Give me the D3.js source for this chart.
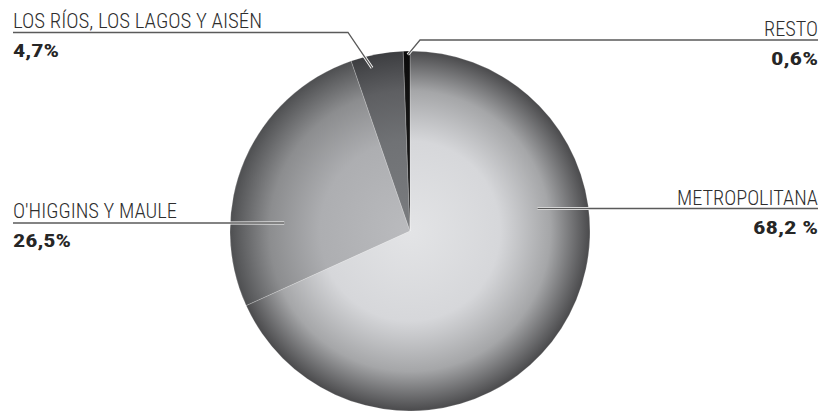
<!DOCTYPE html>
<html>
<head>
<meta charset="utf-8">
<script src="https://cdn.jsdelivr.net/npm/d3@7"></script>
<style>
  body { margin: 0; background: #fff; }
  text { font-family: "Roboto Condensed", "Liberation Sans Narrow", Roboto, "Liberation Sans", sans-serif; }
</style>
</head>
<body>
<div id="canvas"></div>
<script>
"use strict"

/* chart data */
let regions = ["METROPOLITANA", "O'HIGGINS Y MAULE", "LOS RÍOS, LOS LAGOS Y AISÉN", "RESTO"];
let shares = [68.2, 26.5, 4.7, 0.6];
let shareLabels = ["68,2 %", "26,5%", "4,7%", "0,6%"];

/* slice shading: centre colour, mid colour, rim colour */
let shades = [
    ["#e3e4e6", "#d6d7da", "#4a4a4c"],
    ["#babbbe", "#adaeb1", "#4e4f51"],
    ["#7a7c7f", "#707275", "#3c3d40"],
    ["#151515", "#151515", "#0a0a0a"]
];

/* label layout: side, x of text, baseline y of name, leader angle (deg) and radius factor */
let layout = [
    { side: "right", x: 818, y: 205, lineY: 208.5, ang: 79.8, rf: 0.72, nameW: 141, valW: 65 },
    { side: "left",  x: 13,  y: 218, lineY: 223,   ang: 273.6, rf: 0.70, nameW: 164, valW: 58 },
    { side: "left",  x: 13,  y: 28,  lineY: 32.5,  ang: 346.9, rf: 0.93, nameW: 249, valW: 46, bendX: 348 },
    { side: "right", x: 818, y: 36,  lineY: 40,    ang: 359.3, rf: 0.98, nameW: 54,  valW: 47, bendX: 420 }
];

let width = 832, height = 411;
let cx = 410, cy = 231, radius = 180;

let drawing = d3.select("#canvas")
    .append("svg")
    .attr("width", width)
    .attr("height", height);

let defs = drawing.append("defs");

let pie = d3.pie().sort(null).value(d => d);
let arcs = pie(shares);
let arc = d3.arc().innerRadius(0).outerRadius(radius);

shades.forEach(function (s, i) {
    let g = defs.append("radialGradient")
        .attr("id", "shade" + i)
        .attr("gradientUnits", "userSpaceOnUse")
        .attr("cx", 0).attr("cy", 0).attr("r", radius);
    g.append("stop").attr("offset", "0%").attr("stop-color", s[0]);
    g.append("stop").attr("offset", "50%").attr("stop-color", s[1]);
    g.append("stop").attr("offset", "78%").attr("stop-color", d3.interpolateRgb(s[1], s[2])(0.35));
    g.append("stop").attr("offset", "100%").attr("stop-color", s[2]);
});

let pieGroup = drawing.append("g")
    .attr("transform", "translate(" + cx + "," + cy + ")");

/* Slices */
pieGroup.selectAll("path.slice")
    .data(arcs)
    .enter()
    .append("path")
    .attr("class", "slice")
    .attr("d", arc)
    .attr("fill", (d, i) => "url(#shade" + i + ")")
    .attr("stroke", "rgba(255,255,255,0.35)")
    .attr("stroke-width", 0.6);

/* Leader lines */
let leaders = drawing.append("g");

layout.forEach(function (L, i) {
    let p = d3.pointRadial(L.ang * Math.PI / 180, radius * L.rf);
    let ax = cx + p[0], ay = cy + p[1];
    let pts;
    if (L.bendX !== undefined) {
        pts = [[L.side === "left" ? L.x : L.x, L.lineY], [L.bendX, L.lineY], [ax, ay]];
    } else {
        pts = [[L.x, L.lineY], [ax, L.lineY]];
    }
    let line = d3.line();
    leaders.append("path")
        .attr("d", line(pts))
        .attr("fill", "none")
        .attr("stroke", "#ffffff")
        .attr("stroke-width", 3);
    leaders.append("path")
        .attr("d", line(pts))
        .attr("fill", "none")
        .attr("stroke", "#5a5a5a")
        .attr("stroke-width", 1.3);
});

/* Labels */
let labels = drawing.append("g");

layout.forEach(function (L, i) {
    let anchor = L.side === "left" ? "start" : "end";
    labels.append("text")
        .attr("x", L.x)
        .attr("y", L.y)
        .attr("text-anchor", anchor)
        .attr("font-size", 20)
        .attr("font-weight", 300)
        .attr("fill", "#2e2e2e")
        .attr("textLength", L.nameW)
        .attr("lengthAdjust", "spacingAndGlyphs")
        .text(regions[i]);
    labels.append("text")
        .attr("x", L.x)
        .attr("y", L.y + 29)
        .attr("text-anchor", anchor)
        .attr("font-size", 19)
        .attr("font-weight", "bold")
        .attr("fill", "#262626")
        .attr("textLength", L.valW)
        .attr("lengthAdjust", "spacingAndGlyphs")
        .text(shareLabels[i]);
});
</script>
</body>
</html>
